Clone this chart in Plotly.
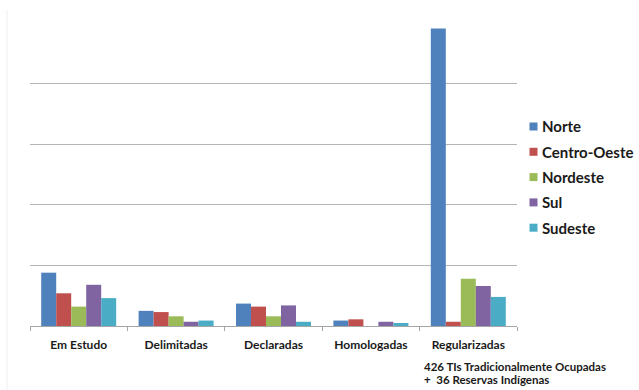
import plotly.graph_objects as go

# Situação fundiária das terras indígenas por região
categorias = ["Em Estudo", "Delimitadas", "Declaradas", "Homologadas", "Regularizadas"]

norte = [44, 12.5, 18.5, 4.5, 245.5]
centro_oeste = [27, 11.5, 16, 5.5, 3.5]
nordeste = [16, 8, 8, 0, 39]
sul = [34, 3.5, 17, 3.5, 33]
sudeste = [23, 4.5, 3.5, 2.5, 24]

series = [
    ("Norte", norte, "#4F81BD"),
    ("Centro-Oeste", centro_oeste, "#C0504D"),
    ("Nordeste", nordeste, "#9BBB59"),
    ("Sul", sul, "#8064A2"),
    ("Sudeste", sudeste, "#4BACC6"),
]

nota = ["426 TIs Tradicionalmente Ocupadas", "+  36 Reservas Indígenas"]

FONT = "Lato, 'Open Sans', sans-serif"
TEXT = "#1a1a1a"

# Figure geometry in pixels
W, H = 639, 390
ML, MR, MT, MB = 30, 122, 23, 64
PW, PH = W - ML - MR, H - MT - MB


def px_x(px):
    return (px - ML) / PW


def px_y(py):
    return (H - MB - py) / PH


fig = go.Figure()
for nome, valores, cor in series:
    fig.add_trace(go.Bar(
        name=nome,
        x=categorias,
        y=valores,
        marker=dict(color=cor, line=dict(width=0)),
        showlegend=False,
    ))

shapes = [
    # faint frame line on the left edge
    dict(
        type="line", xref="paper", yref="paper",
        x0=px_x(7), x1=px_x(7), y0=px_y(H), y1=px_y(10),
        line=dict(color="#eeeeee", width=1),
    )
]
annotations = []

# Legend drawn as colored squares with labels to the right of the plot
leg_y0, leg_step = 126.5, 25.3
for i, (nome, _, cor) in enumerate(series):
    cy = leg_y0 + i * leg_step
    shapes.append(dict(
        type="rect", xref="paper", yref="paper",
        x0=px_x(529.5), x1=px_x(537.5),
        y0=px_y(cy + 4), y1=px_y(cy - 4),
        fillcolor=cor, line=dict(width=0),
    ))
    annotations.append(dict(
        text=nome, xref="paper", yref="paper",
        x=px_x(540), y=px_y(cy),
        xanchor="left", yanchor="middle", showarrow=False,
        font=dict(family=FONT, size=15, weight="bold", color=TEXT),
    ))

# Note under the last category
for linha, cy in zip(nota, [366, 379.3]):
    annotations.append(dict(
        text=linha, xref="paper", yref="paper",
        x=px_x(421.5), y=px_y(cy),
        xanchor="left", yanchor="middle", showarrow=False,
        font=dict(family=FONT, size=11.5, weight="bold", color=TEXT),
    ))

fig.update_layout(
    width=W,
    height=H,
    margin=dict(l=ML, r=MR, t=MT, b=MB),
    paper_bgcolor="white",
    plot_bgcolor="white",
    barmode="group",
    bargap=0.23,
    bargroupgap=0,
    showlegend=False,
    font=dict(family=FONT, color=TEXT),
    xaxis=dict(
        categoryorder="array",
        categoryarray=categorias,
        showline=True,
        linecolor="#a6a6a6",
        linewidth=1,
        ticks="outside",
        tickson="boundaries",
        ticklen=4,
        tickcolor="#a6a6a6",
        ticklabelstandoff=8,
        tickfont=dict(family=FONT, size=12, weight="bold", color=TEXT),
        showgrid=False,
    ),
    yaxis=dict(
        range=[0, 250],
        dtick=50,
        showticklabels=False,
        showgrid=True,
        gridcolor="#b4b4b4",
        gridwidth=1,
        zeroline=False,
        showline=False,
    ),
    shapes=shapes,
    annotations=annotations,
)

fig.write_html("out.html")
